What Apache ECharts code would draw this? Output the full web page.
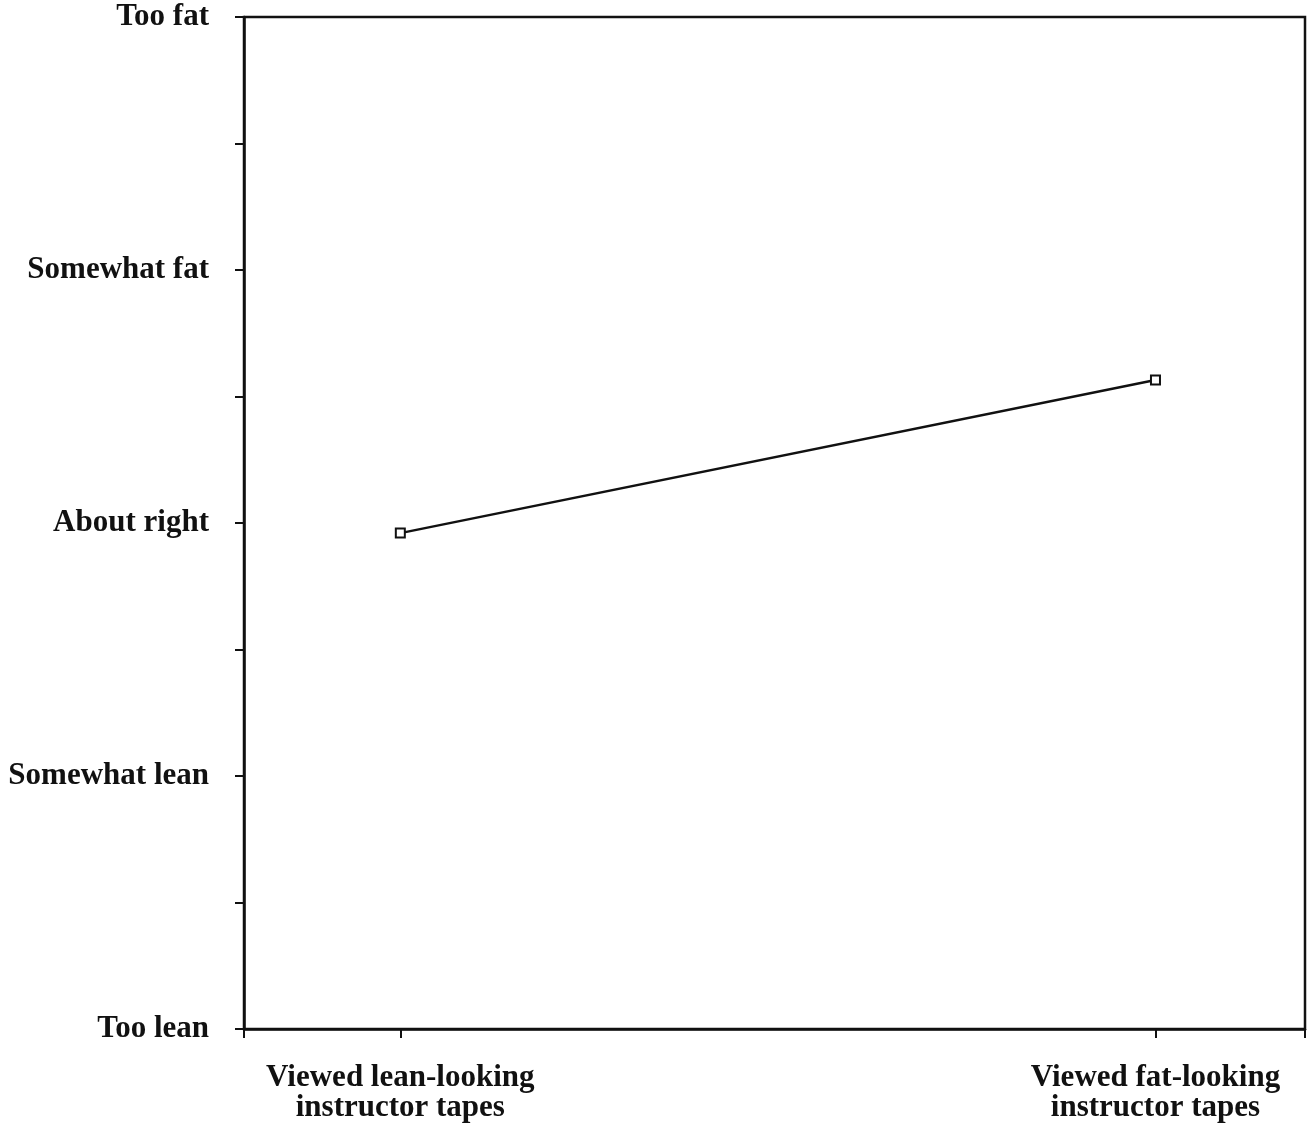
<!DOCTYPE html>
<html>
<head>
<meta charset="utf-8">
<script src="https://cdn.jsdelivr.net/npm/echarts@6/dist/echarts.min.js"></script>
<style>html,body{margin:0;padding:0;background:#fff}#c{width:1309px;height:1127px}</style>
</head>
<body>
<div id="c"></div>
<script>
var categories = ['Viewed lean-looking\ninstructor tapes', 'Viewed fat-looking\ninstructor tapes'];
var categoryPositions = [1, 2];
var ratings = [3.92, 5.13];
var yTickLabels = ['Too lean', '', 'Somewhat lean', '', 'About right', '', 'Somewhat fat', '', 'Too fat'];

var xMin = 0.793, xMax = 2.198;
var chart = echarts.init(document.getElementById('c'));
var font = '"Liberation Serif", "Times New Roman", serif';
chart.setOption({
  animation: false,
  backgroundColor: '#fff',
  grid: {left: 244, right: 4, top: 17, bottom: 98, show: true, borderColor: '#111', borderWidth: 2.5, backgroundColor: 'transparent'},
  xAxis: {
    type: 'value', min: xMin, max: xMax,
    splitLine: {show: false},
    axisLine: {show: true, lineStyle: {color: '#111', width: 2.5}},
    axisTick: {show: true, inside: false, length: 9, lineStyle: {color: '#111', width: 2}, customValues: [xMin].concat(categoryPositions).concat([xMax])},
    axisLabel: {
      customValues: categoryPositions,
      formatter: function (v) { var i = categoryPositions.indexOf(Math.round(v)); return i >= 0 ? categories[i] : ''; },
      color: '#111', fontFamily: font, fontWeight: 'bold', fontSize: 31, lineHeight: 30, margin: 34, align: 'center'
    }
  },
  yAxis: {
    type: 'value', min: 0, max: 8, interval: 1,
    splitLine: {show: false},
    axisLine: {show: true, lineStyle: {color: '#111', width: 2.5}},
    axisTick: {show: true, inside: false, length: 9, lineStyle: {color: '#111', width: 2}},
    axisLabel: {
      formatter: function (v) { return yTickLabels[Math.round(v)] || ''; },
      color: '#111', fontFamily: font, fontWeight: 'bold', fontSize: 31, margin: 35
    }
  },
  series: [{
    type: 'line',
    data: categoryPositions.map(function (x, i) { return [x, ratings[i]]; }),
    symbol: 'rect', symbolSize: 9,
    lineStyle: {color: '#111', width: 2.5},
    itemStyle: {color: '#fff', borderColor: '#111', borderWidth: 2}
  }]
});
</script>
</body>
</html>
